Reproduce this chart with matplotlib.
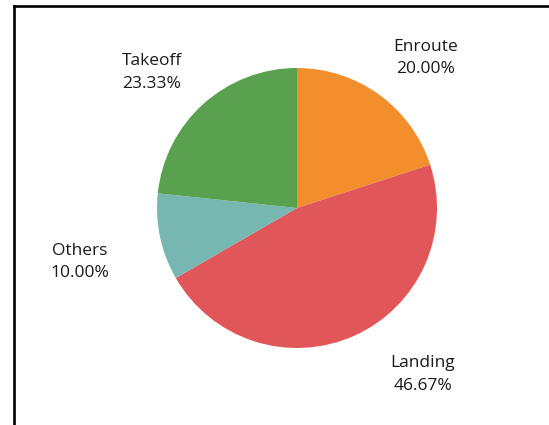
import numpy as np
import matplotlib
matplotlib.use('Agg')
import matplotlib.pyplot as plt
from matplotlib.lines import Line2D

phases = ['Enroute', 'Landing', 'Others', 'Takeoff']
shares = [20.00, 46.67, 10.00, 23.33]
colors = ['#F28E2B', '#E15759', '#76B7B2', '#59A14F']

# label placement: distance from centre (in radii) and angle nudge (deg)
label_dist = [1.41, 1.49, 1.60, 1.42]
label_nudge = [-4.5, 13, 2, 5]

plt.rcParams['font.family'] = ['Open Sans', 'DejaVu Sans']

fig = plt.figure(figsize=(5.49, 4.25), dpi=100)
ax = fig.add_axes([0, 0, 1, 1])

wedges, _ = ax.pie(shares, colors=colors, startangle=90, counterclock=False,
                   radius=1.0, center=(0, 0),
                   wedgeprops=dict(linewidth=0))

for w, name, val, d, nudge in zip(wedges, phases, shares, label_dist, label_nudge):
    mid = np.deg2rad((w.theta1 + w.theta2) / 2 + nudge)
    ax.text(d * np.cos(mid), d * np.sin(mid), '{}\n{:.2f}%'.format(name, val),
            ha='center', va='center', fontsize=12.5, color='#1a1a1a',
            linespacing=1.55)

ax.set_xlim(-297 / 140, 252 / 140)
ax.set_ylim(-217 / 140, 208 / 140)
ax.set_aspect('auto')
ax.axis('off')

# partial frame visible at the top and left
fig.add_artist(Line2D([14 / 549, 1], [1 - 5.5 / 425, 1 - 5.5 / 425],
                      transform=fig.transFigure, color='black', linewidth=1.9))
fig.add_artist(Line2D([14 / 549, 14 / 549], [0, 1 - 5.5 / 425],
                      transform=fig.transFigure, color='black', linewidth=1.9))

fig.savefig('out.png', dpi=100)
